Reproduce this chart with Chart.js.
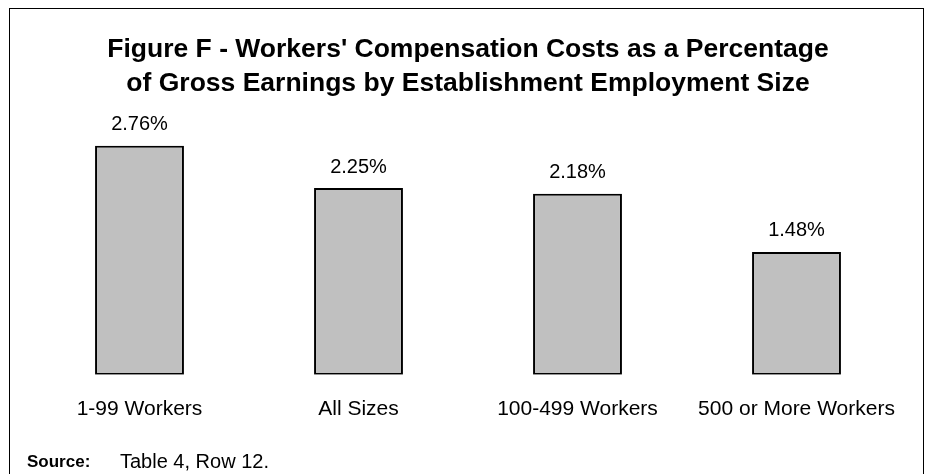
<!DOCTYPE html>
<html>
<head>
<meta charset="utf-8">
<script src="https://cdn.jsdelivr.net/npm/chart.js@4"></script>
<style>
  html, body { margin: 0; padding: 0; background: #fff; }
  #wrap { position: relative; width: 927px; height: 474px; overflow: hidden; }
  #frame { position: absolute; left: 9px; top: 8px; width: 915px; height: 480px; border: 1px solid #000; box-sizing: border-box; }
  canvas { position: absolute; left: 0; top: 0; }
</style>
</head>
<body>
<div id="wrap">
  <div id="frame"></div>
  <canvas id="c" width="927" height="474"></canvas>
</div>
<script>
const categories = ["1-99 Workers", "All Sizes", "100-499 Workers", "500 or More Workers"];
const values = [2.76, 2.25, 2.18, 1.48];
const valueLabels = ["2.76%", "2.25%", "2.18%", "1.48%"];
const titleLines = ["Figure F - Workers' Compensation Costs as a Percentage", "of Gross Earnings by Establishment Employment Size"];
const sourceBold = "Source:";
const sourceText = "Table 4, Row 12.";

const FONT = "'Liberation Sans', Arial, sans-serif";

const valueLabelPlugin = {
  id: 'valueLabels',
  afterDatasetsDraw(chart) {
    const ctx = chart.ctx;
    const meta = chart.getDatasetMeta(0);
    ctx.save();
    ctx.font = "20px " + FONT;
    ctx.fillStyle = "#000";
    ctx.textAlign = "center";
    ctx.textBaseline = "middle";
    meta.data.forEach((bar, i) => {
      ctx.fillText(valueLabels[i], bar.x, bar.y - 21);
    });
    ctx.restore();
  }
};

const sourcePlugin = {
  id: 'sourceNote',
  afterDraw(chart) {
    const ctx = chart.ctx;
    ctx.save();
    ctx.fillStyle = "#000";
    ctx.textBaseline = "middle";
    ctx.textAlign = "left";
    ctx.font = "bold 17px " + FONT;
    ctx.fillText(sourceBold, 27, 462);
    ctx.font = "20px " + FONT;
    ctx.fillText(sourceText, 120, 462);
    ctx.restore();
  }
};

new Chart(document.getElementById('c'), {
  type: 'bar',
  data: {
    labels: categories,
    datasets: [{
      data: values,
      backgroundColor: '#C0C0C0',
      borderColor: '#000',
      borderWidth: 2,
      borderSkipped: false,
      barPercentage: 0.406,
      categoryPercentage: 1.0
    }]
  },
  options: {
    responsive: false,
    animation: false,
    devicePixelRatio: 1,
    layout: { padding: { top: 0, left: 30, right: 21, bottom: 30 } },
    plugins: {
      legend: { display: false },
      tooltip: { enabled: false },
      title: {
        display: true,
        text: titleLines,
        color: '#000',
        font: { family: FONT, size: 26.5, weight: 'bold', lineHeight: 1.285 },
        padding: { top: 33, bottom: 33 }
      }
    },
    scales: {
      x: {
        grid: { display: false, drawTicks: false },
        border: { display: false },
        ticks: { color: '#000', font: { family: FONT, size: 21 }, padding: 22, maxRotation: 0 }
      },
      y: {
        display: false,
        min: 0,
        max: 2.9
      }
    }
  },
  plugins: [valueLabelPlugin, sourcePlugin]
});
</script>
</body>
</html>
